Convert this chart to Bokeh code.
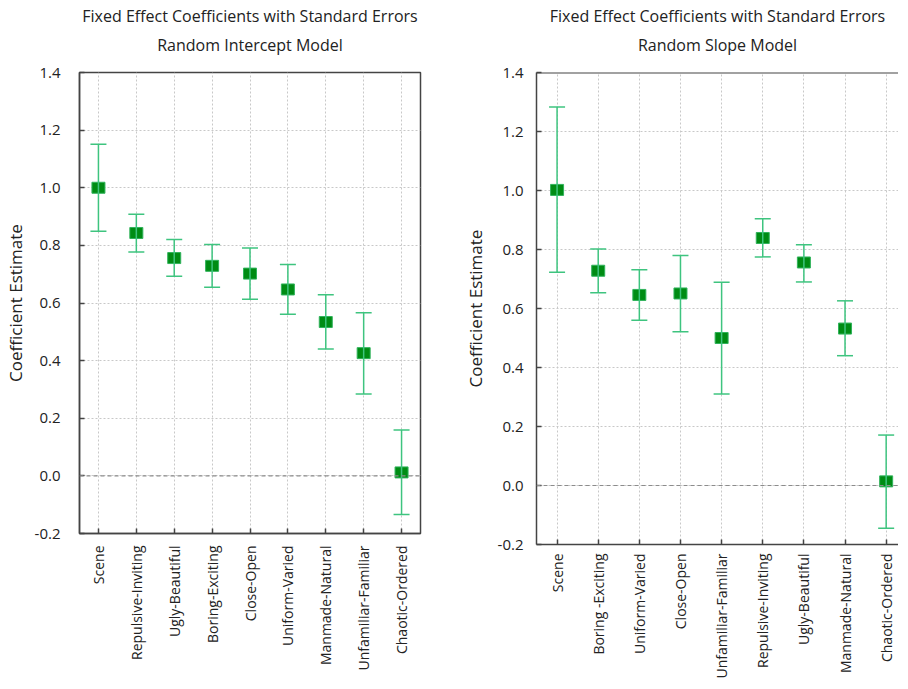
import math
from bokeh.plotting import figure
from bokeh.models import (ColumnDataSource, Whisker, TeeHead, Span, Title, Range1d,
                          FixedTicker, NumeralTickFormatter)
from bokeh.layouts import row
from bokeh.embed import file_html
from bokeh.resources import INLINE

main_title = "Fixed Effect Coefficients with Standard Errors"
left_subtitle = "Random Intercept Model"
right_subtitle = "Random Slope Model"
y_label = "Coefficient Estimate"
y_ticks = [-0.2, 0.0, 0.2, 0.4, 0.6, 0.8, 1.0, 1.2, 1.4]

# Random intercept model
ri_terms = ["Scene", "Repulsive-Inviting", "Ugly-Beautiful", "Boring-Exciting", "Close-Open",
            "Uniform-Varied", "Manmade-Natural", "Unfamiliar-Familiar", "Chaotic-Ordered"]
ri_est = [1.000, 0.843, 0.756, 0.729, 0.702, 0.647, 0.534, 0.426, 0.012]
ri_lo = [0.849, 0.777, 0.693, 0.655, 0.613, 0.561, 0.440, 0.284, -0.134]
ri_hi = [1.151, 0.908, 0.820, 0.803, 0.791, 0.734, 0.629, 0.566, 0.159]

# Random slope model
rs_terms = ["Scene", "Boring -Exciting", "Uniform-Varied", "Close-Open", "Unfamiliar-Familiar",
            "Repulsive-Inviting", "Ugly-Beautiful", "Manmade-Natural", "Chaotic-Ordered"]
rs_est = [1.002, 0.728, 0.646, 0.651, 0.500, 0.839, 0.756, 0.532, 0.014]
rs_lo = [0.723, 0.653, 0.560, 0.521, 0.310, 0.775, 0.690, 0.440, -0.145]
rs_hi = [1.283, 0.802, 0.731, 0.780, 0.689, 0.904, 0.816, 0.626, 0.171]

FONT = "Open Sans"
BAR = "#3ec47f"
MARK = "#008c14"
AX = "#444444"


def build(terms, est, lo, hi, subtitle, fw, fh, mb, x_end, tick_standoff,
          label_standoff, x_standoff, outline=True):
    xs = list(range(len(terms)))
    src = ColumnDataSource(dict(x=xs, est=est, lo=lo, hi=hi))
    p = figure(frame_width=fw, frame_height=fh, title=None,
               x_range=Range1d(-0.5, x_end), y_range=Range1d(y_ticks[0], y_ticks[-1]),
               output_backend="svg", toolbar_location=None,
               min_border_left=mb[0], min_border_right=mb[1],
               min_border_top=mb[2], min_border_bottom=mb[3])
    p.add_layout(Title(text=subtitle, align="center", text_font=FONT, text_font_size="16px",
                       text_font_style="normal", text_color="#222222", standoff=33), "above")
    p.add_layout(Title(text=main_title, align="center", text_font=FONT, text_font_size="16px",
                       text_font_style="normal", text_color="#222222", standoff=-23), "above")
    p.background_fill_color = "white"
    p.border_fill_color = "white"
    if outline:
        p.outline_line_color = AX
        p.outline_line_width = 1.5
    else:
        p.outline_line_color = None
        p.add_layout(Span(location=y_ticks[-1], dimension="width", line_color=AX, line_width=2))

    # grids
    p.xgrid.ticker = FixedTicker(ticks=xs)
    p.ygrid.ticker = FixedTicker(ticks=y_ticks)
    for g in (p.xgrid, p.ygrid):
        g.grid_line_color = "#c8c8c8"
        g.grid_line_dash = "2 2"
        g.grid_line_width = 1

    # y axis
    ya = p.yaxis[0]
    ya.ticker = FixedTicker(ticks=y_ticks)
    ya.formatter = NumeralTickFormatter(format="0.0")
    ya.major_tick_in = 5
    ya.major_tick_out = 0
    ya.minor_tick_line_color = None
    ya.axis_line_color = AX
    ya.axis_line_width = 1.5
    ya.major_tick_line_color = AX
    ya.major_tick_line_width = 1.5
    ya.major_label_text_font = FONT
    ya.major_label_text_font_size = "15px"
    ya.major_label_text_color = "#222222"
    ya.major_label_standoff = tick_standoff
    ya.axis_label = y_label
    ya.axis_label_text_font = FONT
    ya.axis_label_text_font_size = "17px"
    ya.axis_label_text_font_style = "normal"
    ya.axis_label_text_color = "#222222"
    ya.axis_label_standoff = label_standoff

    # x axis
    xa = p.xaxis[0]
    xa.ticker = FixedTicker(ticks=xs)
    xa.major_label_overrides = {i: t for i, t in zip(xs, terms)}
    xa.major_label_orientation = math.pi / 2
    xa.major_tick_in = 5
    xa.major_tick_out = 0
    xa.minor_tick_line_color = None
    xa.axis_line_color = AX
    xa.axis_line_width = 1.5
    xa.major_tick_line_color = AX
    xa.major_tick_line_width = 1.5
    xa.major_label_text_font = FONT
    xa.major_label_text_font_size = "14px"
    xa.major_label_text_color = "#222222"
    xa.major_label_standoff = x_standoff

    # zero line
    p.add_layout(Span(location=0, dimension="width", line_color="#8c8c8c",
                      line_dash="4 3", line_width=1.2))

    # error bars
    head = dict(size=16, line_color=BAR, line_width=1.5)
    p.add_layout(Whisker(source=src, base="x", upper="hi", lower="lo", dimension="height",
                         line_color=BAR, line_width=1.5, level="glyph",
                         upper_head=TeeHead(**head), lower_head=TeeHead(**head)))
    # point estimates
    p.rect(x="x", y="est", width=13, height=11, width_units="screen", height_units="screen",
           fill_color=MARK, line_color="#30b35c", line_width=1, source=src)
    return p


p1 = build(ri_terms, ri_est, ri_lo, ri_hi, left_subtitle, fw=341, fh=461,
           mb=(74, 40, 72, 146), x_end=8.5, tick_standoff=19, label_standoff=5, x_standoff=12)
p2 = build(rs_terms, rs_est, rs_lo, rs_hi, right_subtitle, fw=362, fh=472,
           mb=(75, 0, 71, 144), x_end=8.3, tick_standoff=13, label_standoff=8, x_standoff=9,
           outline=False)

layout = row(p1, p2)
open("out.html", "w").write(file_html(layout, INLINE))
